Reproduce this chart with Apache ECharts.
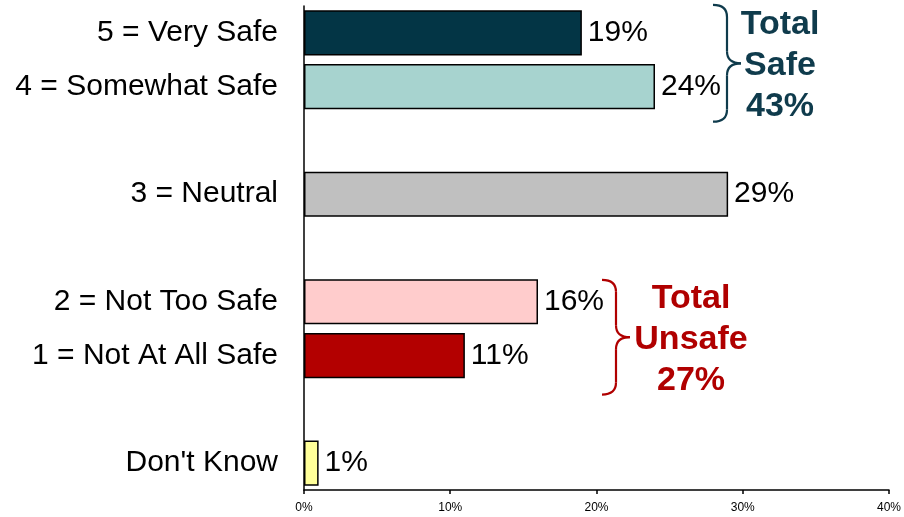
<!DOCTYPE html>
<html>
<head>
<meta charset="utf-8">
<script src="https://cdn.jsdelivr.net/npm/echarts@6/dist/echarts.min.js"></script>
<style>
  html, body { margin: 0; padding: 0; background: #fff; }
  #chart { width: 904px; height: 517px; }
</style>
</head>
<body>
<div id="chart"></div>
<script>
// Response categories, top to bottom; blank entries are spacer rows
const categories = ['5 = Very Safe', '4 = Somewhat Safe', ' ', '3 = Neutral', '  ', '2 = Not Too Safe', '1 = Not At All Safe', '   ', "Don't Know"];
const percents = [19, 24, null, 29, null, 16, 11, null, 1];
const barColors = ['#033545', '#a7d3cf', null, '#c0c0c0', null, '#ffcccc', '#b30000', null, '#ffff99'];
const tickLabels = ['0%', '10%', '20%', '30%', '40%'];

// Groups summarised with a brace to the right of the bars
const safeRows = [0, 1];
const unsafeRows = [5, 6];
const safeColor = '#0f3b4c';
const unsafeColor = '#b00000';

const FONT = "'Liberation Sans', Arial, sans-serif";

const chart = echarts.init(document.getElementById('chart'));

const seriesData = percents.map((v, i) => v == null ? null : {
  value: v,
  itemStyle: { color: barColors[i] }
});

chart.setOption({
  animation: false,
  grid: { left: 304, right: 13, top: 6, bottom: 27, containLabel: false },
  xAxis: {
    type: 'value',
    min: 0,
    max: 40,
    interval: 10,
    axisLine: { show: true, lineStyle: { color: '#000', width: 1.5 } },
    axisTick: { show: true, length: 4, lineStyle: { color: '#000', width: 1.5 } },
    splitLine: { show: false },
    axisLabel: {
      color: '#000',
      fontFamily: FONT,
      fontSize: 12,
      margin: 12,
      formatter: (v) => tickLabels[Math.round(v / 10)]
    }
  },
  yAxis: {
    type: 'category',
    inverse: true,
    data: categories,
    axisLine: { show: true, lineStyle: { color: '#000', width: 1.5 } },
    axisTick: { show: false },
    axisLabel: {
      color: '#000',
      fontFamily: FONT,
      fontSize: 30,
      margin: 26,
      padding: [6, 0, 0, 0]
    }
  },
  series: [{
    type: 'bar',
    data: seriesData,
    barWidth: '84%',
    itemStyle: { borderColor: '#000', borderWidth: 1.5 },
    label: {
      show: true,
      position: 'right',
      distance: 6,
      color: '#000',
      fontFamily: FONT,
      fontSize: 30,
      formatter: (p) => p.value + '%'
    }
  }]
});

// Curly brace opening to the left, tip pointing right, built from curves and lines
function braceParts(xL, xS, xT, yTop, yMid, yBot, color) {
  const r = 12;
  const style = { fill: null, stroke: color, lineWidth: 2.2 };
  const curve = (x1, y1, cx, cy, x2, y2) => ({
    type: 'bezierCurve',
    shape: { x1, y1, x2, y2, cpx1: cx, cpy1: cy },
    style
  });
  const line = (x1, y1, x2, y2) => ({ type: 'line', shape: { x1, y1, x2, y2 }, style });
  return [
    curve(xL, yTop, xS, yTop, xS, yTop + r),
    line(xS, yTop + r, xS, yMid - r),
    curve(xS, yMid - r, xS, yMid, xT, yMid),
    curve(xT, yMid, xS, yMid, xS, yMid + r),
    line(xS, yMid + r, xS, yBot - r),
    curve(xS, yBot - r, xS, yBot, xL, yBot)
  ];
}

function groupGraphics(rows, title, color, xOffset, topPad, botPad, textWidth) {
  const total = rows.reduce((s, i) => s + percents[i], 0);
  const maxVal = Math.max(...rows.map(i => percents[i]));
  const cTop = chart.convertToPixel({ yAxisIndex: 0 }, categories[rows[0]]);
  const cBot = chart.convertToPixel({ yAxisIndex: 0 }, categories[rows[rows.length - 1]]);
  const xL = chart.convertToPixel({ xAxisIndex: 0 }, maxVal) + xOffset;
  const xS = xL + 14;
  const xT = xL + 28;
  const yTop = cTop - topPad;
  const yBot = cBot + botPad;
  const yMid = (yTop + yBot) / 2;
  return [
    ...braceParts(xL, xS, xT, yTop, yMid, yBot, color),
    {
      type: 'text',
      x: xT + 8 + textWidth / 2,
      y: yMid + 2,
      style: {
        text: title + '\n' + total + '%',
        fill: color,
        font: `bold 34px ${FONT}`,
        align: 'center',
        verticalAlign: 'middle',
        lineHeight: 41
      }
    }
  ];
}

chart.setOption({
  graphic: [
    ...groupGraphics(safeRows, 'Total\nSafe', safeColor, 58, 28, 35, 62),
    ...groupGraphics(unsafeRows, 'Total\nUnsafe', unsafeColor, 64, 22, 39, 106)
  ]
});
</script>
</body>
</html>
